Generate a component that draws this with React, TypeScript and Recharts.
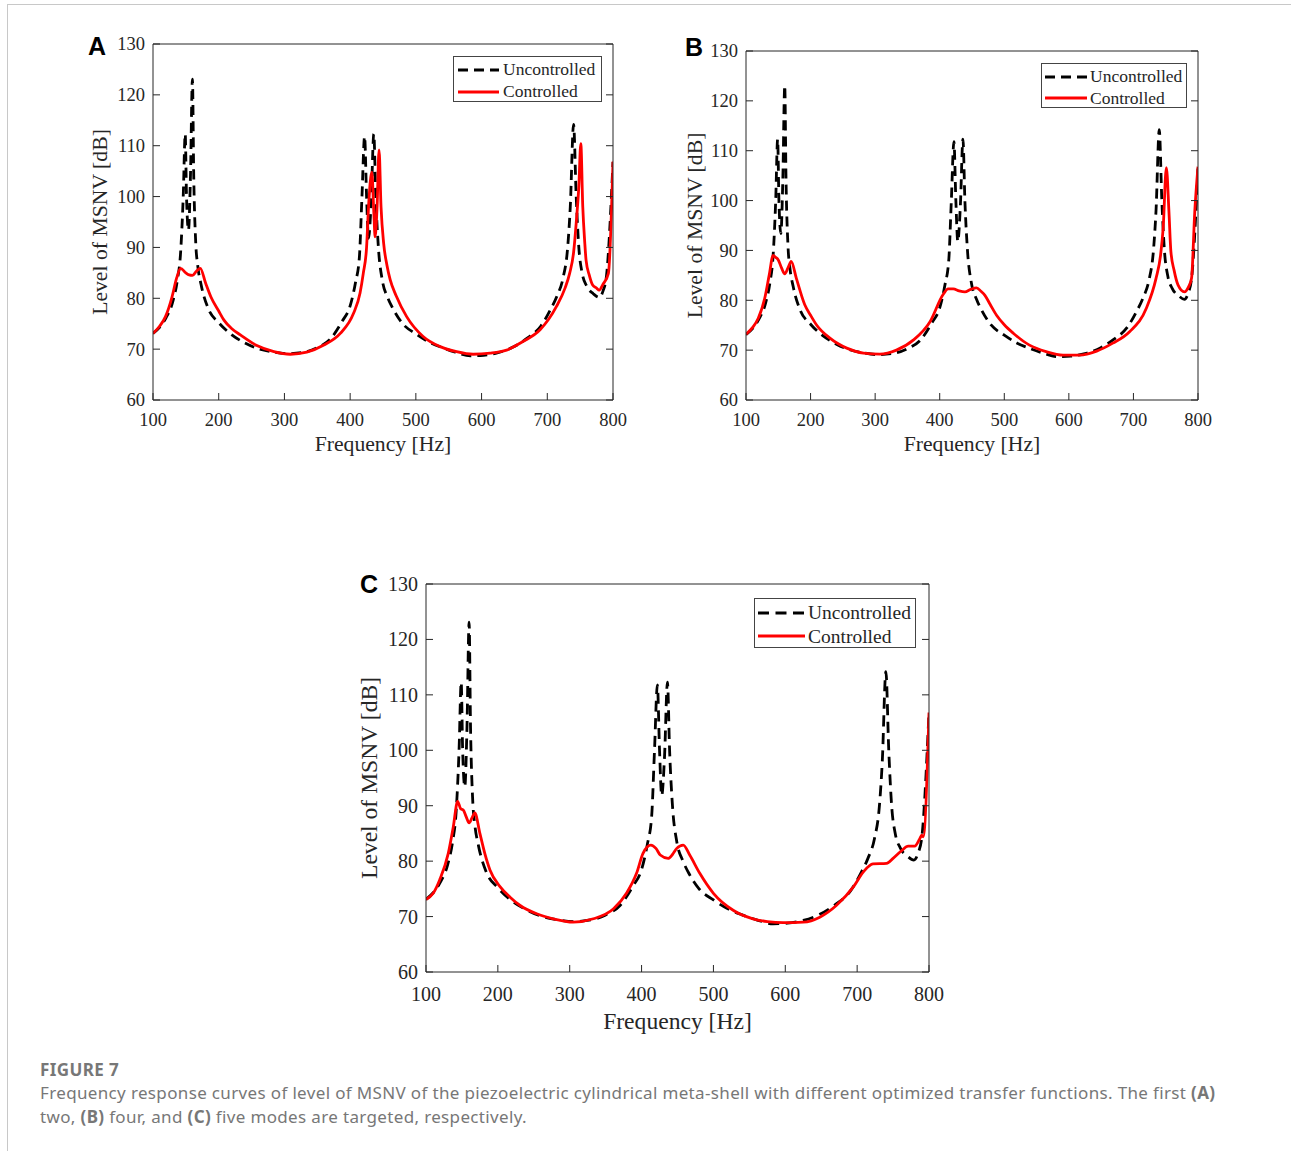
import { LineChart, Line, XAxis, YAxis, Legend, Label } from 'recharts';

const FREQ_TICKS = [100, 200, 300, 400, 500, 600, 700, 800];
const LEVEL_TICKS = [60, 70, 80, 90, 100, 110, 120, 130];
const SERIES_NAMES = ['Uncontrolled', 'Controlled'];

// uncontrolled response (same in all three panels)
const uncFreq = [
  100, 110, 120, 130, 137, 142, 146, 149, 151, 154, 157, 160, 162, 165, 168, 173, 184, 200, 220, 240,
  260, 280, 305, 330, 350, 370, 388, 400, 408, 414, 418, 422, 425, 428, 432, 436, 439, 443, 449, 457,
  465, 480, 500, 520, 540, 560, 583, 603, 625, 648, 670, 690, 705, 715, 724, 731, 735, 740, 744, 748,
  753, 760, 770, 779, 785, 790, 800,
];
const uncLevel = [
  73.1, 74.3, 76.2, 79.3, 83.5, 89, 100, 112.3, 100, 93.4, 104, 123.1, 104, 91, 86.5, 82.8, 78, 75.2, 72.8, 71.2,
  70.1, 69.5, 69.1, 69.4, 70.3, 72.0, 75.5, 78.5, 83, 88, 100, 111.8, 100, 91.8, 99, 112.3, 100, 90, 83.5, 80.2,
  78, 75, 73, 71.4, 70.3, 69.4, 68.7, 68.8, 69.3, 70.4, 72.2, 74.5, 77.8, 80.5, 84, 90, 98, 114.2, 100, 90,
  85, 82.4, 80.9, 80.2, 81.5, 84.3, 106.8,
];

// controlled, first two modes targeted
const ctrlFreqA = [
  100, 110, 119, 129, 136, 142, 150, 155, 160, 166, 172, 180, 188, 200, 208, 220, 233, 258, 284, 309,
  334, 360, 385, 405, 415, 420, 425, 428, 433, 436, 438, 441, 444, 447, 451, 456, 461, 470, 486, 511,
  537, 562, 587, 613, 638, 663, 689, 714, 727, 734, 740, 744, 748, 751, 754, 757, 759, 764, 769, 775,
  779, 785, 793, 800,
];
const ctrlLevelA = [
  73.1, 74.5, 76.4, 80.3, 84, 85.9, 85, 84.6, 84.5, 85.3, 85.9, 83, 80.3, 77.5, 75.7, 74, 72.8, 70.7, 69.5, 69.0,
  69.4, 70.8, 73.1, 77.0, 81, 84.9, 90, 98, 104.8, 97, 92.1, 98, 109.2, 98, 90.8, 86.5, 83.6, 80.5, 76.4, 72.5,
  70.5, 69.5, 69.0, 69.2, 69.8, 71.5, 73.8, 78.4, 82, 84.9, 89, 94.8, 102, 110.4, 98, 91, 87.5, 84.5, 82.6, 82,
  81.6, 82.8, 84.9, 106.9,
];

// controlled, first four modes targeted
const ctrlFreqB = [
  100, 110, 119, 129, 136, 142, 146, 150, 155, 160, 165, 170, 178, 191, 200, 209, 230, 256, 282, 307,
  333, 359, 385, 405, 413, 421, 430, 439, 448, 457, 464, 470, 478, 488, 500, 514, 539, 565, 591, 617,
  643, 668, 694, 720, 735, 742, 746, 751, 755, 758, 763, 769, 779, 785, 790, 795, 800,
];
const ctrlLevelB = [
  73.2, 74.5, 76.4, 80.4, 85.1, 89.0, 88.6, 88.1, 86.5, 85.3, 86.5, 87.8, 84.4, 79.1, 77, 75.1, 72.4, 70.4, 69.4, 69.2,
  70.0, 72.0, 75.7, 81.1, 82.3, 82.3, 81.9, 81.7, 82.2, 82.5, 81.8, 81.0, 79.2, 77.0, 75.1, 73.4, 71.0, 69.7, 69.0, 69.0,
  69.8, 71.4, 73.7, 78.4, 84.4, 89, 94.4, 106.6, 97.8, 89.8, 86, 83.1, 81.7, 82.6, 84.4, 97.8, 106.8,
];

// controlled, first five modes targeted
const ctrlFreqC = [
  100, 110, 119, 131, 138, 144, 148, 152, 156, 160, 164, 168, 175, 182, 189, 203, 217, 231, 254, 277,
  305, 333, 361, 379, 393, 402, 408, 413, 420, 426, 437, 443, 449, 458, 467, 481, 500, 528, 555, 575,
  597, 625, 648, 671, 695, 709, 722, 741, 750, 762, 771, 780, 787, 790, 792, 800,
];
const ctrlLevelC = [
  73.1, 74.2, 76.6, 81.4, 86.2, 90.8, 89.5, 89.2, 88, 86.9, 87.8, 88.7, 85.0, 81.3, 78.4, 75.4, 73.5, 72.0, 70.5, 69.6,
  69.0, 69.6, 71.4, 74.2, 77.8, 81.4, 82.6, 82.9, 82.3, 81.1, 80.5, 81.2, 82.3, 82.9, 81.1, 77.8, 74.2, 71.1, 69.6, 69.1,
  68.9, 69.0, 69.9, 72.0, 75.4, 78.1, 79.5, 79.6, 80.5, 81.9, 82.7, 82.7, 84, 84.7, 84.4, 106.8,
];

const toRows = (f: number[], v: number[]) => f.map((x, i) => ({ f: x, v: v[i] }));
const unc = toRows(uncFreq, uncLevel);

const INK = '#262626';
const SERIF = '"Liberation Serif", "Times New Roman", serif';
const TICK_LEN = 7;

// matlab-style ticks: short marks pointing into the box
const BottomTick = ({ x, y, payload, font, gap }: any) => (
  <g>
    <line x1={x} y1={y} x2={x} y2={y - TICK_LEN} stroke={INK} strokeWidth={1} />
    <text x={x} y={y + gap} textAnchor="middle" fontSize={font} fill={INK} fontFamily={SERIF}>
      {payload.value}
    </text>
  </g>
);
const LeftTick = ({ x, y, payload, font }: any) => (
  <g>
    <line x1={x} y1={y} x2={x + TICK_LEN} y2={y} stroke={INK} strokeWidth={1} />
    <text x={x - 8} y={y} dy="0.35em" textAnchor="end" fontSize={font} fill={INK} fontFamily={SERIF}>
      {payload.value}
    </text>
  </g>
);
const TopTick = ({ x, y }: any) => <line x1={x} y1={y} x2={x} y2={y + TICK_LEN} stroke={INK} strokeWidth={1} />;
const RightTick = ({ x, y }: any) => <line x1={x} y1={y} x2={x - TICK_LEN} y2={y} stroke={INK} strokeWidth={1} />;

const LegendBox = ({ lg, dash }: any) => (
  <div
    style={{
      width: lg.w,
      height: lg.h,
      boxSizing: 'border-box',
      border: '1px solid #444',
      background: '#fff',
      fontFamily: SERIF,
      fontSize: lg.font,
      color: INK,
      paddingTop: lg.padTop,
    }}
  >
    {SERIES_NAMES.map((name, i) => (
      <div key={name} style={{ display: 'flex', alignItems: 'center', height: lg.row }}>
        <svg width={lg.sample} height={8} style={{ marginLeft: lg.padLeft, marginRight: lg.gap }}>
          <line
            x1={0}
            y1={4}
            x2={lg.sample}
            y2={4}
            stroke={i === 0 ? '#000' : '#ff0000'}
            strokeWidth={3}
            strokeDasharray={i === 0 ? dash : undefined}
          />
        </svg>
        <span style={{ lineHeight: 1 }}>{name}</span>
      </div>
    ))}
  </div>
);

const Panel = ({ ctrl, box, m, yw, xh, tickFont, titleFont, xGap, yTitleOffset, xTitleOffset, dash, lg }: any) => (
  <div style={{ position: 'absolute', left: box.left, top: box.top, width: box.w, height: box.h }}>
    <LineChart width={box.w} height={box.h} margin={m}>
      <XAxis
        xAxisId="b"
        dataKey="f"
        type="number"
        domain={[100, 800]}
        ticks={FREQ_TICKS}
        interval={0}
        allowDataOverflow
        height={xh}
        stroke={INK}
        tickLine={false}
        tickSize={0}
        tickMargin={0}
        tick={(p: any) => <BottomTick {...p} font={tickFont} gap={xGap} />}
      >
        <Label
          value="Frequency [Hz]"
          position="insideBottom"
          offset={xTitleOffset}
          style={{ fontSize: titleFont, fill: INK, fontFamily: SERIF }}
        />
      </XAxis>
      <XAxis
        xAxisId="t"
        orientation="top"
        type="number"
        domain={[100, 800]}
        ticks={FREQ_TICKS}
        interval={0}
        allowDataOverflow
        height={1}
        stroke={INK}
        tickLine={false}
        tickSize={0}
        tickMargin={0}
        tick={(p: any) => <TopTick {...p} />}
      />
      <YAxis
        yAxisId="l"
        type="number"
        domain={[60, 130]}
        ticks={LEVEL_TICKS}
        interval={0}
        allowDataOverflow
        width={yw}
        stroke={INK}
        tickLine={false}
        tickSize={0}
        tickMargin={0}
        tick={(p: any) => <LeftTick {...p} font={tickFont} />}
      >
        <Label
          value="Level of MSNV [dB]"
          angle={-90}
          position="insideLeft"
          offset={yTitleOffset}
          style={{ textAnchor: 'middle', fontSize: titleFont, fill: INK, fontFamily: SERIF }}
        />
      </YAxis>
      <YAxis
        yAxisId="r"
        orientation="right"
        type="number"
        domain={[60, 130]}
        ticks={LEVEL_TICKS}
        interval={0}
        allowDataOverflow
        width={1}
        stroke={INK}
        tickLine={false}
        tickSize={0}
        tickMargin={0}
        tick={(p: any) => <RightTick {...p} />}
      />
      <Line
        xAxisId="b"
        yAxisId="l"
        data={unc}
        dataKey="v"
        name="Uncontrolled"
        type="monotone"
        stroke="#000"
        strokeWidth={2.8}
        strokeDasharray={dash}
        dot={false}
        isAnimationActive={false}
      />
      <Line
        xAxisId="b"
        yAxisId="l"
        data={ctrl}
        dataKey="v"
        name="Controlled"
        type="monotone"
        stroke="#ff0000"
        strokeWidth={2.8}
        dot={false}
        isAnimationActive={false}
      />
      <Legend
        layout="horizontal"
        verticalAlign="middle"
        align="center"
        wrapperStyle={{ left: lg.left, top: lg.top, width: lg.w, height: lg.h }}
        content={() => <LegendBox lg={lg} dash={dash} />}
      />
    </LineChart>
  </div>
);

const letter = (ch: string, left: number, top: number) => (
  <div
    style={{
      position: 'absolute',
      left,
      top,
      fontFamily: '"Liberation Sans", Arial, sans-serif',
      fontWeight: 700,
      fontSize: 25,
      lineHeight: '25px',
      color: '#000',
    }}
  >
    {ch}
  </div>
);

export default function App() {
  return (
    <div style={{ position: 'absolute', left: 0, top: 0, width: 1291, height: 1151, background: '#fff', overflow: 'hidden' }}>
      <div style={{ position: 'absolute', left: 7, top: 4, width: 1284, height: 1, background: '#c8c8c8' }} />
      <div style={{ position: 'absolute', left: 7, top: 4, width: 1, height: 1147, background: '#c8c8c8' }} />

      <Panel
        ctrl={toRows(ctrlFreqA, ctrlLevelA)}
        box={{ left: 60, top: 30, w: 580, h: 440 }}
        m={{ top: 13, right: 26, bottom: 0, left: 0 }}
        yw={93}
        xh={70}
        tickFont={18.5}
        titleFont={21.7}
        xGap={26}
        yTitleOffset={39}
        xTitleOffset={19}
        dash="10 6"
        lg={{ left: 393, top: 26, w: 149, h: 46, font: 17.5, row: 22, padTop: 2, padLeft: 4, sample: 41, gap: 4 }}
      />
      <Panel
        ctrl={toRows(ctrlFreqB, ctrlLevelB)}
        box={{ left: 660, top: 30, w: 565, h: 440 }}
        m={{ top: 20, right: 26, bottom: 0, left: 0 }}
        yw={86}
        xh={70}
        tickFont={18.5}
        titleFont={21.7}
        xGap={26}
        yTitleOffset={34}
        xTitleOffset={19}
        dash="10 6"
        lg={{ left: 381, top: 33, w: 146, h: 45, font: 17.5, row: 21.5, padTop: 2, padLeft: 3, sample: 42, gap: 3 }}
      />
      <Panel
        ctrl={toRows(ctrlFreqC, ctrlLevelC)}
        box={{ left: 340, top: 560, w: 616, h: 492 }}
        m={{ top: 23, right: 26, bottom: 0, left: 0 }}
        yw={86}
        xh={80}
        tickFont={20}
        titleFont={23.6}
        xGap={29}
        yTitleOffset={29}
        xTitleOffset={23}
        dash="11 6.5"
        lg={{ left: 414, top: 38, w: 162, h: 50, font: 19.5, row: 23.5, padTop: 2, padLeft: 3, sample: 47, gap: 3 }}
      />

      {letter('A', 88, 34)}
      {letter('B', 685, 35)}
      {letter('C', 360, 572)}

      <div
        style={{
          position: 'absolute',
          left: 40,
          top: 1059,
          fontFamily: '"Noto Sans", "Open Sans", sans-serif',
          color: '#777',
          whiteSpace: 'nowrap',
        }}
      >
        <div style={{ fontSize: 17, fontWeight: 700, lineHeight: '22px', letterSpacing: 0.4 }}>FIGURE 7</div>
        <div style={{ fontSize: 17, lineHeight: '24px', letterSpacing: 0.35 }}>
          Frequency response curves of level of MSNV of the piezoelectric cylindrical meta-shell with different optimized
          transfer functions. The first <b>(A)</b>
          <br />
          two, <b>(B)</b> four, and <b>(C)</b> five modes are targeted, respectively.
        </div>
      </div>
    </div>
  );
}
